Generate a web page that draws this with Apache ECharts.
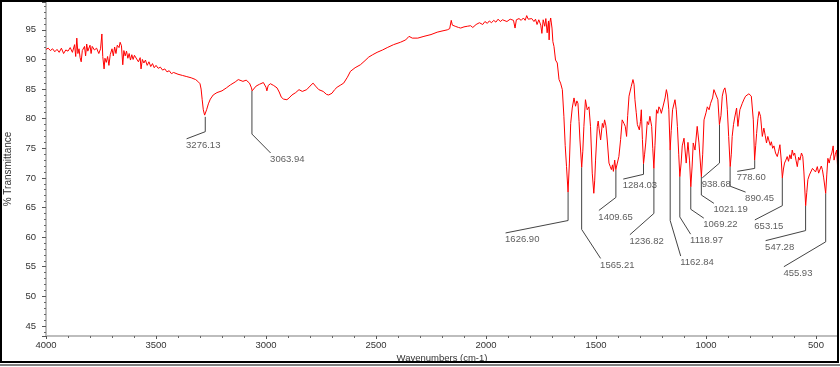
<!DOCTYPE html>
<html><head><meta charset="utf-8">
<script src="https://cdn.jsdelivr.net/npm/echarts@6/dist/echarts.min.js"></script>
<style>html,body{margin:0;padding:0;background:#fff}#c{width:840px;height:367px}</style>
</head><body><div id="c"></div>
<script>
// IR spectrum: [wavenumber cm-1, % transmittance]
const spectrum = [
[4000,91.7],[3990,91.9],[3980,91.5],[3970,91.8],[3960,91.3],[3950,91.7],[3940,91.2],[3930,91.9],[3920,91.0],[3910,91.6],[3900,91.4],[3890,92.0],[3880,91.2],[3870,92.5],[3865,90.5],[3860,93.6],[3855,91.0],[3850,91.8],[3845,90.3],[3840,89.6],[3835,91.5],[3830,91.2],[3825,92.2],[3820,90.6],[3815,92.6],[3810,91.4],[3800,92.4],[3795,91.0],[3790,92.2],[3780,91.6],[3770,91.9],[3760,91.0],[3752,91.8],[3746,94.3],[3742,90.5],[3736,88.4],[3732,90.2],[3726,89.5],[3720,90.5],[3714,89.0],[3708,90.8],[3700,91.8],[3694,90.6],[3688,92.1],[3682,91.0],[3676,92.4],[3668,92.0],[3663,92.9],[3657,92.3],[3651,89.1],[3646,91.5],[3640,90.6],[3634,91.4],[3628,90.2],[3622,91.0],[3616,89.9],[3610,90.8],[3604,90.0],[3598,90.7],[3590,90.4],[3580,89.6],[3572,90.3],[3568,88.4],[3562,90.0],[3555,89.4],[3548,89.9],[3540,89.0],[3532,89.6],[3524,88.8],[3516,89.3],[3508,88.6],[3500,89.0],[3490,88.5],[3480,88.7],[3470,88.2],[3460,88.4],[3450,87.9],[3440,88.1],[3430,87.6],[3420,87.8],[3400,87.5],[3380,87.3],[3360,87.1],[3340,86.9],[3320,86.6],[3310,86.3],[3300,85.9],[3295,85.0],[3290,83.2],[3285,81.5],[3279,80.6],[3276,80.3],[3270,81.5],[3262,82.5],[3253,83.3],[3240,84.0],[3223,84.4],[3200,84.7],[3180,85.2],[3162,85.7],[3140,86.2],[3126,86.6],[3105,86.3],[3090,86.5],[3075,86.0],[3066,85.2],[3063,84.7],[3058,84.9],[3045,85.5],[3030,85.8],[3012,86.1],[3000,85.3],[2996,84.7],[2990,85.6],[2980,85.9],[2965,85.6],[2950,85.2],[2940,84.5],[2930,83.6],[2920,83.3],[2905,83.2],[2895,83.5],[2882,84.0],[2865,84.4],[2850,84.9],[2844,85.1],[2835,84.6],[2829,84.3],[2815,84.9],[2800,85.5],[2786,86.0],[2775,85.5],[2760,84.9],[2753,84.7],[2740,84.6],[2725,84.1],[2715,84.0],[2700,84.3],[2688,84.9],[2677,85.3],[2660,85.7],[2647,86.0],[2630,87.0],[2616,88.0],[2595,88.6],[2571,89.1],[2550,89.8],[2533,90.4],[2515,90.8],[2495,91.2],[2470,91.6],[2449,92.0],[2420,92.5],[2389,92.9],[2365,93.3],[2350,93.9],[2343,94.0],[2335,93.6],[2329,93.4],[2310,93.6],[2282,93.9],[2250,94.2],[2222,94.6],[2200,94.8],[2176,95.0],[2165,95.2],[2158,96.6],[2153,95.8],[2140,95.6],[2125,95.4],[2115,95.3],[2100,95.5],[2085,95.6],[2070,95.7],[2060,95.4],[2045,95.9],[2030,96.2],[2024,96.4],[2015,95.9],[2005,96.4],[1994,96.1],[1985,96.5],[1975,96.2],[1965,96.6],[1955,96.3],[1945,96.8],[1935,96.4],[1925,96.7],[1918,96.7],[1905,96.4],[1890,96.8],[1875,96.6],[1868,95.3],[1862,96.7],[1850,96.9],[1840,96.6],[1830,97.0],[1822,96.6],[1815,97.4],[1808,96.8],[1800,96.5],[1792,96.9],[1782,96.4],[1775,96.8],[1768,95.9],[1760,96.7],[1751,95.8],[1746,94.4],[1740,96.7],[1733,95.6],[1728,96.9],[1722,94.5],[1716,96.5],[1713,93.3],[1710,96.2],[1706,97.0],[1700,95.3],[1696,93.0],[1691,92.2],[1684,89.9],[1676,89.4],[1668,86.6],[1661,86.0],[1653,84.9],[1646,80.4],[1640,75.5],[1634,71.9],[1627,67.6],[1621,72.5],[1615,79.2],[1608,81.8],[1600,83.5],[1593,82.1],[1587,83.0],[1582,82.6],[1577,79.5],[1573,76.4],[1565,71.8],[1560,74.5],[1555,78.7],[1548,83.2],[1540,81.5],[1532,82.0],[1525,78.7],[1517,70.8],[1510,67.4],[1506,69.5],[1502,73.0],[1494,78.7],[1490,79.6],[1486,78.3],[1479,76.4],[1471,79.2],[1466,78.5],[1461,79.8],[1455,78.8],[1449,76.4],[1441,72.5],[1435,71.9],[1430,71.4],[1425,72.2],[1421,71.1],[1415,73.0],[1410,71.4],[1403,72.5],[1396,73.6],[1388,76.5],[1381,79.8],[1373,79.2],[1367,78.7],[1361,77.0],[1356,80.5],[1350,83.8],[1340,85.4],[1332,86.6],[1327,85.8],[1323,83.2],[1317,81.0],[1312,79.0],[1303,78.1],[1298,79.5],[1294,81.5],[1289,76.5],[1284,72.4],[1279,74.0],[1274,75.9],[1267,79.5],[1261,79.0],[1255,80.4],[1247,78.7],[1242,75.0],[1237,71.6],[1232,75.5],[1225,81.5],[1219,80.9],[1214,82.0],[1208,81.6],[1203,80.9],[1197,81.8],[1191,82.0],[1186,83.5],[1180,84.9],[1175,84.0],[1169,81.5],[1163,74.7],[1158,78.0],[1152,81.5],[1141,83.2],[1135,81.5],[1130,78.7],[1124,74.0],[1119,70.2],[1113,72.5],[1108,75.4],[1100,76.7],[1090,72.5],[1082,76.0],[1075,73.0],[1069,68.5],[1063,72.0],[1058,75.9],[1050,74.7],[1040,78.7],[1032,75.9],[1021,70.2],[1015,74.0],[1009,79.8],[1000,81.0],[994,82.0],[986,81.5],[979,82.6],[970,83.5],[964,84.9],[955,85.0],[946,83.2],[939,79.0],[932,80.5],[926,83.8],[920,84.8],[914,85.2],[908,84.0],[903,81.5],[897,77.0],[890,71.9],[885,74.0],[881,77.0],[875,79.0],[870,80.1],[861,81.8],[855,78.7],[846,81.5],[835,82.6],[827,83.3],[820,83.8],[812,84.0],[805,84.2],[794,83.8],[785,79.8],[779,73.0],[774,75.5],[770,77.5],[764,80.0],[759,81.2],[752,80.4],[744,77.0],[737,78.4],[731,77.2],[725,75.9],[719,77.0],[714,76.7],[708,75.5],[703,76.1],[697,75.0],[691,75.4],[684,74.2],[676,73.6],[670,74.5],[664,75.6],[658,73.0],[653,70.0],[648,71.5],[643,72.5],[637,73.0],[631,73.6],[625,72.8],[619,73.9],[613,73.2],[608,74.7],[602,73.8],[597,74.2],[591,73.0],[585,71.9],[579,73.5],[573,73.0],[566,74.2],[560,73.6],[555,71.0],[547,65.3],[542,67.5],[537,69.7],[530,70.5],[522,70.8],[516,71.6],[510,71.4],[502,71.0],[494,71.9],[488,70.8],[482,70.5],[476,72.0],[471,71.4],[465,70.0],[456,67.4],[451,70.5],[446,73.3],[440,72.5],[434,73.6],[428,74.2],[422,75.4],[418,73.0],[412,74.0],[406,74.7],[402,72.0],[400,71.4]
];

// Peak annotations
const peakLabels = ['3276.13','3063.94','1626.90','1565.21','1409.65','1284.03','1236.82','1162.84','1118.97','1069.22','1021.19','938.68','890.45','778.60','653.15','547.28','455.93'];
const peakWn     = [3276.13,3063.94,1626.90,1565.21,1409.65,1284.03,1236.82,1162.84,1118.97,1069.22,1021.19,938.68,890.45,778.60,653.15,547.28,455.93];
const peakT      = [80.3,84.7,67.6,71.8,71.4,72.4,71.6,74.7,70.2,68.5,70.2,79.0,71.9,73.0,70.0,65.3,67.4];
const elbowT     = [77.8,77.4,62.8,61.3,66.7,70.6,64.0,62.8,63.4,64.7,67.1,72.5,68.6,71.6,65.3,61.1,59.2];
const labelWn    = [3361,2979,1911,1479,1487,1376,1346,1115,1070,1010,964,1017,820,858,778,729,646];
const labelT     = [76.6,74.2,60.7,56.4,64.5,69.8,60.4,56.8,60.5,63.2,65.7,70.0,67.6,71.1,62.9,59.4,55.0];

// Tick labels
const xTickLabels = [4000,3500,3000,2500,2000,1500,1000,500];
const yTickLabels = [45,50,55,60,65,70,75,80,85,90,95];

const FONT = "'Liberation Sans Narrow','Arial Narrow','Liberation Sans',Arial,sans-serif";

const series = [{
  type: 'line', data: spectrum, symbol: 'none', sampling: false,
  lineStyle: {color: '#ff0000', width: 1}, z: 3, silent: true
}];
peakLabels.forEach((lbl, i) => {
  series.push({
    type: 'line', symbol: 'none', silent: true, z: 2,
    lineStyle: {color: '#444444', width: 1},
    data: [[peakWn[i], peakT[i]], [peakWn[i], elbowT[i]], [labelWn[i], labelT[i]]]
  });
});
series.push({
  type: 'scatter', silent: true, symbolSize: 1, z: 4,
  itemStyle: {color: 'rgba(0,0,0,0)'},
  data: peakLabels.map((l, i) => [labelWn[i], labelT[i], l]),
  label: {
    show: true, position: [0, 0], align: 'left', verticalAlign: 'middle', offset: [0, 7],
    formatter: p => p.value[2], color: '#333', fontSize: 9.5, fontFamily: FONT
  }
});

const chart = echarts.init(document.getElementById('c'), null, {renderer: 'canvas'});
chart.setOption({
  animation: false,
  backgroundColor: '#ffffff',
  grid: {left: 46, right: 2, top: 2, bottom: 31, containLabel: false, outerBoundsMode: 'none'},
  xAxis: {
    type: 'value', min: 400, max: 4000, inverse: true,
    minInterval: 500, maxInterval: 500,
    name: 'Wavenumbers (cm-1)', nameLocation: 'middle', nameGap: 17, nameMoveOverlap: false,
    nameTextStyle: {color: '#333', fontSize: 9.5, fontFamily: FONT},
    axisLine: {lineStyle: {color: '#bdbdbd', width: 2}},
    axisTick: {show: true, length: 3, lineStyle: {color: '#555'}},
    minorTick: {show: true, splitNumber: 5, length: 2, lineStyle: {color: '#666'}},
    splitLine: {show: false},
    axisLabel: {
      color: '#333', fontSize: 9.5, fontFamily: FONT, margin: 4,
      formatter: v => xTickLabels.includes(Math.round(v)) && Math.abs(v - Math.round(v)) < 1e-6 ? String(Math.round(v)) : ''
    }
  },
  yAxis: {
    type: 'value', min: 43.3, max: 99.7,
    minInterval: 5, maxInterval: 5,
    name: '% Transmittance', nameLocation: 'middle', nameGap: 33, nameRotate: 90, nameMoveOverlap: false,
    nameTextStyle: {color: '#333', fontSize: 10, fontFamily: FONT},
    axisLine: {lineStyle: {color: '#bdbdbd', width: 2}},
    axisTick: {show: true, length: 4, lineStyle: {color: '#555'}},
    minorTick: {show: true, splitNumber: 5, length: 2, lineStyle: {color: '#666'}},
    splitLine: {show: false},
    axisLabel: {
      color: '#333', fontSize: 9.5, fontFamily: FONT, margin: 10,
      formatter: v => (Math.abs(v - Math.round(v)) < 1e-6 && yTickLabels.includes(Math.round(v))) ? String(Math.round(v)) : ''
    }
  },
  graphic: [
    {type: 'rect', shape: {x: 1, y: 1, width: 837, height: 361}, style: {fill: 'none', stroke: '#000', lineWidth: 2}, z: 100, silent: true},
    {type: 'line', shape: {x1: 0, y1: 365, x2: 840, y2: 365}, style: {stroke: '#555', lineWidth: 1.5}, z: 100, silent: true}
  ],
  series: series
});
</script>
</body></html>
